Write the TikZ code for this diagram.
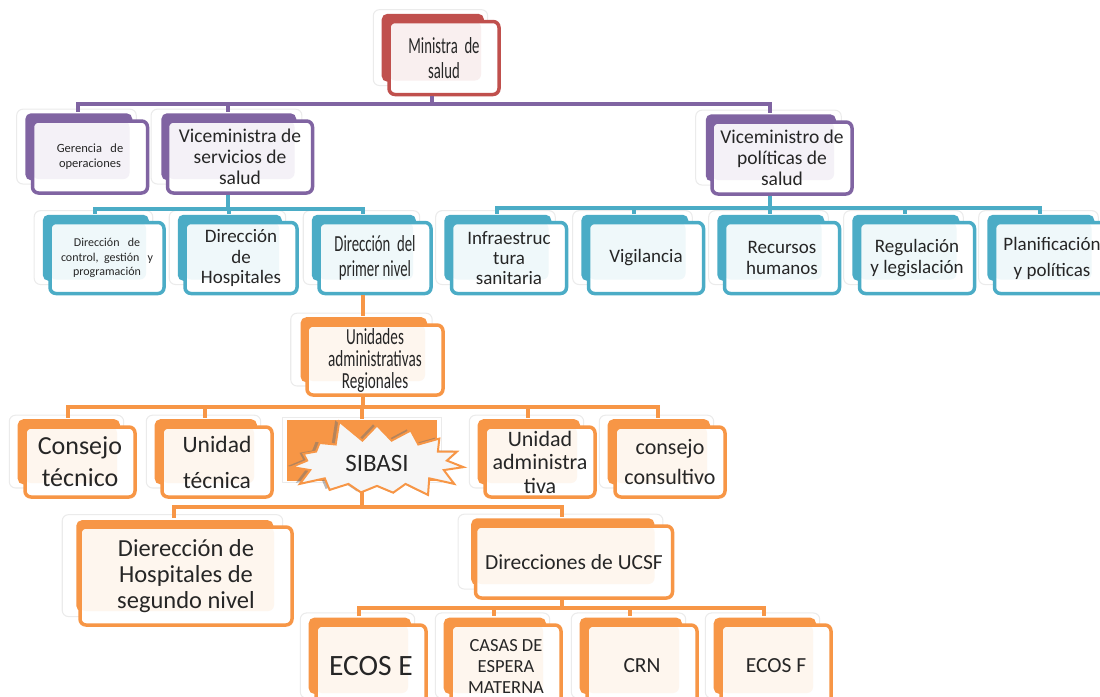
\documentclass[tikz,border=0pt]{standalone}
\usepackage{fontspec}
\setmainfont{Carlito}
\newfontfamily\narrowfont[FakeStretch=0.64]{Carlito}
\newfontfamily\narrowerfont[FakeStretch=0.66]{Carlito}
\usetikzlibrary{shadows,shapes.symbols}
\definecolor{redm}{HTML}{C0504D}
\definecolor{purm}{HTML}{8064A2}
\definecolor{blum}{HTML}{4BACC6}
\definecolor{orgm}{HTML}{F79646}

\begin{document}
\begin{tikzpicture}[x=1pt, y=1pt,
  box/.style={rectangle, rounded corners=6pt, line width=3.5pt, draw=#1,
    fill=white, inner sep=0pt, align=center, text=black!85,
    general shadow={fill=white, draw=black!8, line width=1pt,
      shadow scale=1.04, shadow xshift=-13pt, shadow yshift=10pt},
    general shadow={fill=#1, draw=none, shadow scale=0.93,
      shadow xshift=-12pt, shadow yshift=11pt},
    path picture={\fill[#1!9] (path picture bounding box.north west)
      rectangle ([shift={(-18pt,14pt)}]path picture bounding box.south east);}},
  sback/.style={rectangle, fill=orgm, inner sep=0pt,
    general shadow={fill=white, draw=black!8, line width=1pt,
      shadow scale=1.06, shadow xshift=0pt, shadow yshift=0pt}},
  burst/.style={starburst, starburst points=15, starburst point height=24pt,
    random starburst=5, fill=gray!7, draw=orgm, line width=2pt,
    inner xsep=18pt, inner ysep=8pt, text=black!85,
    drop shadow={shadow xshift=-4pt, shadow yshift=1pt, fill=black!55}},
  pline/.style={draw=purm, line width=4pt},
  bline/.style={draw=blum, line width=4pt},
  oline/.style={draw=orgm, line width=4pt},
]
\useasboundingbox (0,0) rectangle (1100,-696);
\clip (0,0) rectangle (1100,-696);

% Ministra
\node[box=redm, minimum width=110pt, minimum height=73pt,
  font=\narrowfont\fontsize{23}{25}\selectfont] (min) at (444,-58) {Ministra~~de\\salud};

% Viceministerios y gerencia
\node[box=purm, minimum width=115pt, minimum height=72pt,
  font=\fontsize{12.5}{15}\selectfont] (ger) at (90,-157) {Gerencia~~~de\\operaciones};
\node[box=purm, minimum width=145pt, minimum height=72pt,
  font=\fontsize{19.5}{21}\selectfont] (vms) at (240,-157) {Viceministra de\\servicios de\\salud};
\node[box=purm, minimum width=140pt, minimum height=72pt,
  font=\fontsize{19.5}{21}\selectfont] (vmp) at (782,-158) {Viceministro de\\políticas de\\salud};

% Direcciones (servicios de salud)
\node[box=blum, minimum width=114pt, minimum height=71pt,
  font=\fontsize{12}{14.5}\selectfont] (dcg) at (107,-258) {Dirección~~~de\\control,~~gestión~~~y\\programación};
\node[box=blum, minimum width=112pt, minimum height=71pt,
  font=\fontsize{19}{20.5}\selectfont] (dho) at (241,-258) {Dirección\\de\\Hospitales};
\node[box=blum, minimum width=112pt, minimum height=71pt,
  font=\narrowfont\fontsize{23}{25}\selectfont] (dpn) at (375,-258) {Dirección~~del\\primer nivel};

% Direcciones (politicas de salud)
\node[box=blum, minimum width=115pt, minimum height=71pt,
  font=\fontsize{19}{20}\selectfont] (inf) at (509,-258) {Infraestruc\\tura\\sanitaria};
\node[box=blum, minimum width=115pt, minimum height=71pt,
  font=\fontsize{19}{20}\selectfont] (vig) at (646,-258) {Vigilancia};
\node[box=blum, minimum width=115pt, minimum height=71pt,
  font=\fontsize{19}{21}\selectfont] (rhu) at (782,-258) {Recursos\\humanos};
\node[box=blum, minimum width=115pt, minimum height=71pt,
  font=\fontsize{19}{21}\selectfont] (rle) at (917,-258) {Regulación\\y legislación};
\node[box=blum, minimum width=115pt, minimum height=71pt,
  font=\fontsize{19}{26}\selectfont] (ppo) at (1052,-258) {Planificación\\y políticas};

% Unidades regionales
\node[box=orgm, minimum width=136pt, minimum height=70pt,
  font=\narrowerfont\fontsize{23}{22}\selectfont] (ura) at (375,-360) {Unidades\\administrativas\\Regionales};

\node[box=orgm, minimum width=110pt, minimum height=70pt,
  font=\fontsize{26}{32}\selectfont] (cte) at (80,-462) {Consejo\\técnico};
\node[box=orgm, minimum width=110pt, minimum height=70pt,
  font=\fontsize{23.5}{36}\selectfont] (ute) at (217,-462) {Unidad\\técnica};
\node[sback, minimum width=150pt, minimum height=61pt] (sib) at (362,-450) {};
\node[box=orgm, minimum width=110pt, minimum height=70pt,
  font=\fontsize{22}{23.5}\selectfont] (uad) at (540,-462) {Unidad\\administra\\tiva};
\node[box=orgm, minimum width=110pt, minimum height=70pt,
  font=\fontsize{22}{30}\selectfont] (cco) at (670,-462) {consejo\\consultivo};

% Segundo nivel y UCSF
\node[box=orgm, minimum width=212pt, minimum height=98pt,
  font=\fontsize{24.5}{26}\selectfont] (dhs) at (186,-576) {Dierección de\\Hospitales de\\segundo nivel};
\node[box=orgm, minimum width=197pt, minimum height=72pt,
  font=\fontsize{21.5}{24}\selectfont] (ucs) at (574,-562) {Direcciones de UCSF};

\node[box=orgm, minimum width=110pt, minimum height=82pt,
  font=\fontsize{29.5}{30}\selectfont] (ece) at (371,-666) {ECOS E};
\node[box=orgm, minimum width=110pt, minimum height=82pt,
  font=\fontsize{18.5}{21}\selectfont] (cas) at (506,-666) {CASAS DE\\ESPERA\\MATERNA};
\node[box=orgm, minimum width=110pt, minimum height=82pt,
  font=\fontsize{21.5}{22}\selectfont] (crn) at (642,-666) {CRN};
\node[box=orgm, minimum width=110pt, minimum height=82pt,
  font=\fontsize{21.5}{22}\selectfont] (ecf) at (776,-666) {ECOS F};

% Conectores
\draw[pline] ([xshift=-12pt]min.south) -- ++(0,-8) -| ([shift={(-12pt,7pt)}]ger.north);
\draw[pline] ([xshift=-12pt]min.south) -- ++(0,-8) -| ([shift={(-12pt,7pt)}]vms.north);
\draw[pline] ([xshift=-12pt]min.south) -- ++(0,-8) -| ([shift={(-12pt,7pt)}]vmp.north);

\draw[bline] ([xshift=-12pt]vms.south) -- ++(0,-14) -| ([shift={(-12pt,7pt)}]dcg.north);
\draw[bline] ([xshift=-12pt]vms.south) -- ++(0,-14) -| ([shift={(-12pt,7pt)}]dho.north);
\draw[bline] ([xshift=-12pt]vms.south) -- ++(0,-14) -| ([shift={(-12pt,7pt)}]dpn.north);

\draw[bline] ([xshift=-12pt]vmp.south) -- ++(0,-12) -| ([shift={(-12pt,7pt)}]inf.north);
\draw[bline] ([xshift=-12pt]vmp.south) -- ++(0,-12) -| ([shift={(-12pt,7pt)}]vig.north);
\draw[bline] ([xshift=-12pt]vmp.south) -- ++(0,-12) -| ([shift={(-12pt,7pt)}]rhu.north);
\draw[bline] ([xshift=-12pt]vmp.south) -- ++(0,-12) -| ([shift={(-12pt,7pt)}]rle.north);
\draw[bline] ([xshift=-12pt]vmp.south) -- ++(0,-12) -| ([shift={(-12pt,7pt)}]ppo.north);

\draw[oline] ([xshift=-12pt]dpn.south) -- ([shift={(-12pt,7pt)}]ura.north);

\draw[oline] ([xshift=-12pt]ura.south) -- ++(0,-10) -| ([shift={(-12pt,7pt)}]cte.north);
\draw[oline] ([xshift=-12pt]ura.south) -- ++(0,-10) -| ([shift={(-12pt,7pt)}]ute.north);
\draw[oline] ([xshift=-12pt]ura.south) -- ++(0,-10) -| (sib.north);
\draw[oline] ([xshift=-12pt]ura.south) -- ++(0,-10) -| ([shift={(-12pt,7pt)}]uad.north);
\draw[oline] ([xshift=-12pt]ura.south) -- ++(0,-10) -| ([shift={(-12pt,7pt)}]cco.north);

\draw[oline] (sib.south) -- ++(0,-26) -| ([shift={(-12pt,7pt)}]dhs.north);
\draw[oline] (sib.south) -- ++(0,-26) -| ([shift={(-12pt,7pt)}]ucs.north);

\draw[oline] ([xshift=-12pt]ucs.south) -- ++(0,-8) -| ([shift={(-12pt,7pt)}]ece.north);
\draw[oline] ([xshift=-12pt]ucs.south) -- ++(0,-8) -| ([shift={(-12pt,7pt)}]cas.north);
\draw[oline] ([xshift=-12pt]ucs.south) -- ++(0,-8) -| ([shift={(-12pt,7pt)}]crn.north);
\draw[oline] ([xshift=-12pt]ucs.south) -- ++(0,-8) -| ([shift={(-12pt,7pt)}]ecf.north);

% SIBASI
\node[burst, font=\fontsize{25}{24}\selectfont] (sbs) at (377,-463) {SIBASI};

\end{tikzpicture}
\end{document}
